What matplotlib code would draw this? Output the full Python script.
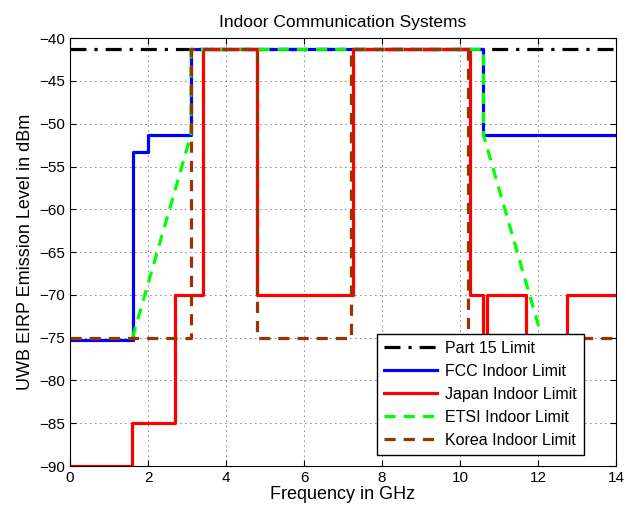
import matplotlib
matplotlib.use("Agg")
import matplotlib.pyplot as plt

# step masks as (frequency GHz, level dBm) corner points
part15_f = [0, 14]
part15_p = [-41.3, -41.3]

fcc_f = [0, 1.61, 1.61, 1.99, 1.99, 3.1, 3.1, 10.6, 10.6, 14]
fcc_p = [-75.3, -75.3, -53.3, -53.3, -51.3, -51.3, -41.3, -41.3, -51.3, -51.3]

japan_f = [0, 1.6, 1.6, 2.7, 2.7, 3.4, 3.4, 4.8, 4.8, 7.25, 7.25, 10.25, 10.25,
           10.6, 10.6, 10.7, 10.7, 11.7, 11.7, 12.75, 12.75, 14]
japan_p = [-90, -90, -85, -85, -70, -70, -41.3, -41.3, -70, -70, -41.3, -41.3, -70,
           -70, -85, -85, -70, -70, -85, -85, -70, -70]

etsi_f = [1.6, 3.1, 3.1, 10.6, 10.6, 12.1]
etsi_p = [-75, -51.3, -41.3, -41.3, -51.3, -75]

korea_f = [0, 3.1, 3.1, 4.8, 4.8, 7.2, 7.2, 10.2, 10.2, 14]
korea_p = [-75, -75, -41.3, -41.3, -75, -75, -41.3, -41.3, -75, -75]

plt.rcParams["font.family"] = ["Liberation Sans", "DejaVu Sans"]

fig = plt.figure(figsize=(6.26, 5.13), dpi=100)
ax = fig.add_axes([0.112, 0.0916, 0.872, 0.834])

ax.plot(part15_f, part15_p, color="black", linewidth=2.3,
        dashes=(5, 2.5, 1, 2.5), label="Part 15 Limit")
ax.plot(fcc_f, fcc_p, color="#0000ff", linewidth=2.3, label="FCC Indoor Limit")
ax.plot(japan_f, japan_p, color="#ff0000", linewidth=2.3, label="Japan Indoor Limit")
ax.plot(etsi_f, etsi_p, color="#00ff00", linewidth=2.3, dashes=(3.5, 2.5),
        label="ETSI Indoor Limit")
ax.plot(korea_f, korea_p, color="#993300", linewidth=2.3, dashes=(3.5, 2.5),
        label="Korea Indoor Limit")

ax.set_xlim(0, 14)
ax.set_ylim(-90, -40)
ax.set_xticks(range(0, 15, 2))
ax.set_yticks(range(-90, -39, 5))
ax.tick_params(direction="in", top=True, right=True, labelsize=11, length=4,
               width=0.8)
ax.grid(True, color="black", linestyle=(0, (1, 5)), linewidth=0.6)

ax.set_title("Indoor Communication Systems", fontsize=12.5, pad=8)
ax.set_xlabel("Frequency in GHz", fontsize=13, labelpad=1)
ax.set_ylabel("UWB EIRP Emission Level in dBm", fontsize=13, labelpad=4)

leg = ax.legend(loc="lower right", bbox_to_anchor=(0.941, 0.026), fontsize=11.5,
                fancybox=False, framealpha=1, edgecolor="black",
                handlelength=3.3, handletextpad=0.5, borderaxespad=0,
                labelspacing=0.5, borderpad=0.45)
leg.get_frame().set_linewidth(1.0)

fig.savefig("out.png", dpi=100)
plt.close(fig)
